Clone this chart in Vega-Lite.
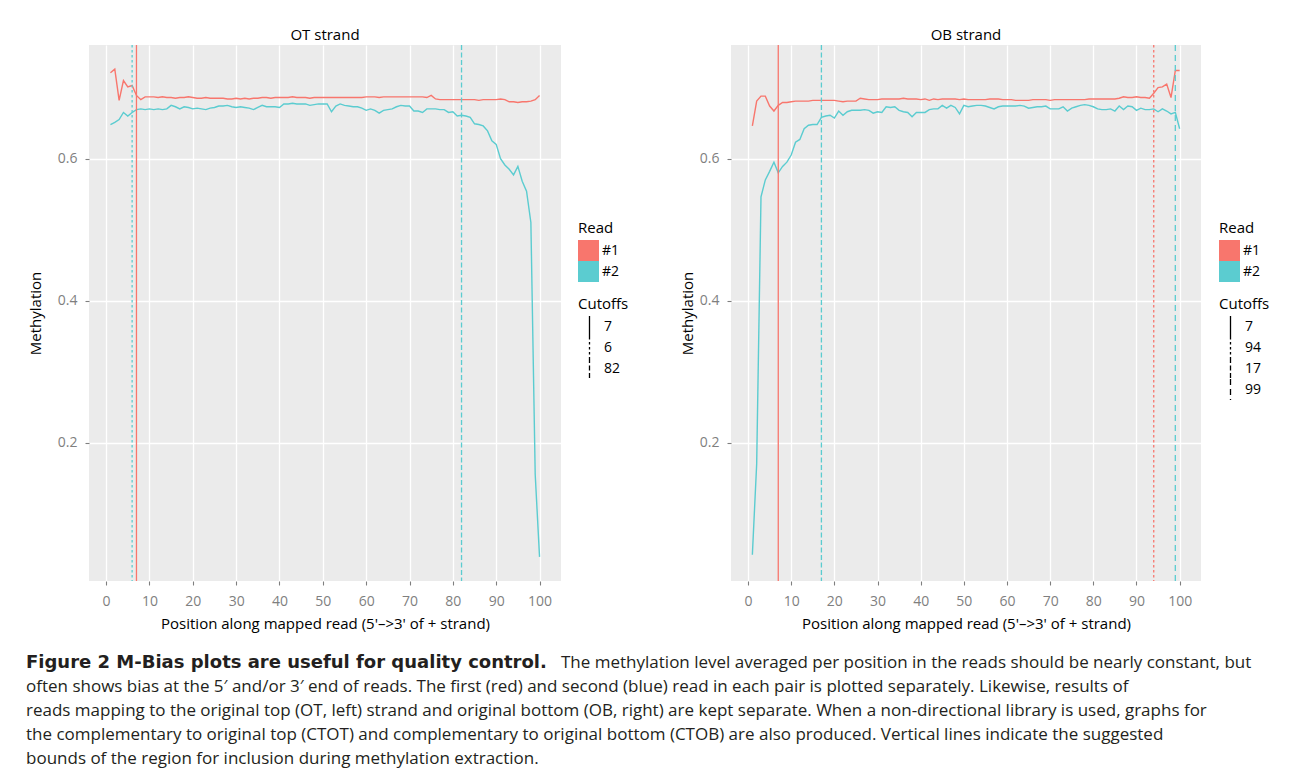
{
 "$schema": "https://vega.github.io/schema/vega-lite/v6.json",
 "background": "white",
 "padding": {"left": 26, "top": 28, "right": 5, "bottom": 10},
 "config": {
  "font": "Open Sans",
  "view": {"stroke": null},
  "axis": {"domain": false, "tickColor": "#7F7F7F", "tickSize": 4, "tickWidth": 1.1, "labelColor": "#7F7F7F", "labelFontSize": 14, "titleFontSize": 15, "titleFontWeight": "normal", "titleColor": "#000000", "gridColor": "#FFFFFF", "gridWidth": 1.3, "gridOpacity": 1},
  "legend": {"titleFontSize": 15, "titleFontWeight": "normal", "labelFontSize": 14, "titleColor": "#000000", "labelColor": "#000000"},
  "title": {"fontSize": 15, "fontWeight": "normal", "anchor": "middle", "offset": 1, "color": "#000000"}
 },
 "datasets": {
  "ot": [
   {"pos":1,"read":"#1","meth":0.721},{"pos":2,"read":"#1","meth":0.726},{"pos":3,"read":"#1","meth":0.682},{"pos":4,"read":"#1","meth":0.710},{"pos":5,"read":"#1","meth":0.701},{"pos":6,"read":"#1","meth":0.703},{"pos":7,"read":"#1","meth":0.689},{"pos":8,"read":"#1","meth":0.683},{"pos":9,"read":"#1","meth":0.687},{"pos":10,"read":"#1","meth":0.687},
   {"pos":11,"read":"#1","meth":0.687},{"pos":12,"read":"#1","meth":0.686},{"pos":13,"read":"#1","meth":0.687},{"pos":14,"read":"#1","meth":0.686},{"pos":15,"read":"#1","meth":0.686},{"pos":16,"read":"#1","meth":0.685},{"pos":17,"read":"#1","meth":0.686},{"pos":18,"read":"#1","meth":0.686},{"pos":19,"read":"#1","meth":0.687},{"pos":20,"read":"#1","meth":0.686},
   {"pos":21,"read":"#1","meth":0.685},{"pos":22,"read":"#1","meth":0.685},{"pos":23,"read":"#1","meth":0.686},{"pos":24,"read":"#1","meth":0.685},{"pos":25,"read":"#1","meth":0.685},{"pos":26,"read":"#1","meth":0.685},{"pos":27,"read":"#1","meth":0.685},{"pos":28,"read":"#1","meth":0.684},{"pos":29,"read":"#1","meth":0.684},{"pos":30,"read":"#1","meth":0.685},
   {"pos":31,"read":"#1","meth":0.684},{"pos":32,"read":"#1","meth":0.685},{"pos":33,"read":"#1","meth":0.684},{"pos":34,"read":"#1","meth":0.685},{"pos":35,"read":"#1","meth":0.685},{"pos":36,"read":"#1","meth":0.686},{"pos":37,"read":"#1","meth":0.686},{"pos":38,"read":"#1","meth":0.685},{"pos":39,"read":"#1","meth":0.686},{"pos":40,"read":"#1","meth":0.686},
   {"pos":41,"read":"#1","meth":0.686},{"pos":42,"read":"#1","meth":0.686},{"pos":43,"read":"#1","meth":0.687},{"pos":44,"read":"#1","meth":0.686},{"pos":45,"read":"#1","meth":0.686},{"pos":46,"read":"#1","meth":0.686},{"pos":47,"read":"#1","meth":0.685},{"pos":48,"read":"#1","meth":0.686},{"pos":49,"read":"#1","meth":0.686},{"pos":50,"read":"#1","meth":0.686},
   {"pos":51,"read":"#1","meth":0.686},{"pos":52,"read":"#1","meth":0.686},{"pos":53,"read":"#1","meth":0.686},{"pos":54,"read":"#1","meth":0.686},{"pos":55,"read":"#1","meth":0.686},{"pos":56,"read":"#1","meth":0.686},{"pos":57,"read":"#1","meth":0.686},{"pos":58,"read":"#1","meth":0.686},{"pos":59,"read":"#1","meth":0.686},{"pos":60,"read":"#1","meth":0.687},
   {"pos":61,"read":"#1","meth":0.687},{"pos":62,"read":"#1","meth":0.687},{"pos":63,"read":"#1","meth":0.686},{"pos":64,"read":"#1","meth":0.687},{"pos":65,"read":"#1","meth":0.687},{"pos":66,"read":"#1","meth":0.687},{"pos":67,"read":"#1","meth":0.687},{"pos":68,"read":"#1","meth":0.687},{"pos":69,"read":"#1","meth":0.687},{"pos":70,"read":"#1","meth":0.687},
   {"pos":71,"read":"#1","meth":0.687},{"pos":72,"read":"#1","meth":0.687},{"pos":73,"read":"#1","meth":0.687},{"pos":74,"read":"#1","meth":0.686},{"pos":75,"read":"#1","meth":0.689},{"pos":76,"read":"#1","meth":0.684},{"pos":77,"read":"#1","meth":0.683},{"pos":78,"read":"#1","meth":0.683},{"pos":79,"read":"#1","meth":0.683},{"pos":80,"read":"#1","meth":0.683},
   {"pos":81,"read":"#1","meth":0.683},{"pos":82,"read":"#1","meth":0.683},{"pos":83,"read":"#1","meth":0.683},{"pos":84,"read":"#1","meth":0.683},{"pos":85,"read":"#1","meth":0.683},{"pos":86,"read":"#1","meth":0.682},{"pos":87,"read":"#1","meth":0.683},{"pos":88,"read":"#1","meth":0.683},{"pos":89,"read":"#1","meth":0.683},{"pos":90,"read":"#1","meth":0.683},
   {"pos":91,"read":"#1","meth":0.684},{"pos":92,"read":"#1","meth":0.683},{"pos":93,"read":"#1","meth":0.680},{"pos":94,"read":"#1","meth":0.680},{"pos":95,"read":"#1","meth":0.679},{"pos":96,"read":"#1","meth":0.680},{"pos":97,"read":"#1","meth":0.680},{"pos":98,"read":"#1","meth":0.681},{"pos":99,"read":"#1","meth":0.683},{"pos":100,"read":"#1","meth":0.689},
   {"pos":1,"read":"#2","meth":0.648},{"pos":2,"read":"#2","meth":0.651},{"pos":3,"read":"#2","meth":0.655},{"pos":4,"read":"#2","meth":0.665},{"pos":5,"read":"#2","meth":0.660},{"pos":6,"read":"#2","meth":0.665},{"pos":7,"read":"#2","meth":0.669},{"pos":8,"read":"#2","meth":0.670},{"pos":9,"read":"#2","meth":0.669},{"pos":10,"read":"#2","meth":0.670},
   {"pos":11,"read":"#2","meth":0.669},{"pos":12,"read":"#2","meth":0.670},{"pos":13,"read":"#2","meth":0.669},{"pos":14,"read":"#2","meth":0.670},{"pos":15,"read":"#2","meth":0.675},{"pos":16,"read":"#2","meth":0.673},{"pos":17,"read":"#2","meth":0.670},{"pos":18,"read":"#2","meth":0.673},{"pos":19,"read":"#2","meth":0.672},{"pos":20,"read":"#2","meth":0.670},
   {"pos":21,"read":"#2","meth":0.671},{"pos":22,"read":"#2","meth":0.670},{"pos":23,"read":"#2","meth":0.669},{"pos":24,"read":"#2","meth":0.671},{"pos":25,"read":"#2","meth":0.672},{"pos":26,"read":"#2","meth":0.674},{"pos":27,"read":"#2","meth":0.674},{"pos":28,"read":"#2","meth":0.675},{"pos":29,"read":"#2","meth":0.673},{"pos":30,"read":"#2","meth":0.672},
   {"pos":31,"read":"#2","meth":0.673},{"pos":32,"read":"#2","meth":0.672},{"pos":33,"read":"#2","meth":0.671},{"pos":34,"read":"#2","meth":0.669},{"pos":35,"read":"#2","meth":0.672},{"pos":36,"read":"#2","meth":0.675},{"pos":37,"read":"#2","meth":0.673},{"pos":38,"read":"#2","meth":0.673},{"pos":39,"read":"#2","meth":0.673},{"pos":40,"read":"#2","meth":0.672},
   {"pos":41,"read":"#2","meth":0.677},{"pos":42,"read":"#2","meth":0.677},{"pos":43,"read":"#2","meth":0.678},{"pos":44,"read":"#2","meth":0.677},{"pos":45,"read":"#2","meth":0.677},{"pos":46,"read":"#2","meth":0.677},{"pos":47,"read":"#2","meth":0.675},{"pos":48,"read":"#2","meth":0.676},{"pos":49,"read":"#2","meth":0.677},{"pos":50,"read":"#2","meth":0.677},
   {"pos":51,"read":"#2","meth":0.677},{"pos":52,"read":"#2","meth":0.666},{"pos":53,"read":"#2","meth":0.674},{"pos":54,"read":"#2","meth":0.677},{"pos":55,"read":"#2","meth":0.675},{"pos":56,"read":"#2","meth":0.674},{"pos":57,"read":"#2","meth":0.673},{"pos":58,"read":"#2","meth":0.673},{"pos":59,"read":"#2","meth":0.671},{"pos":60,"read":"#2","meth":0.668},
   {"pos":61,"read":"#2","meth":0.670},{"pos":62,"read":"#2","meth":0.668},{"pos":63,"read":"#2","meth":0.664},{"pos":64,"read":"#2","meth":0.668},{"pos":65,"read":"#2","meth":0.669},{"pos":66,"read":"#2","meth":0.670},{"pos":67,"read":"#2","meth":0.673},{"pos":68,"read":"#2","meth":0.675},{"pos":69,"read":"#2","meth":0.674},{"pos":70,"read":"#2","meth":0.674},
   {"pos":71,"read":"#2","meth":0.667},{"pos":72,"read":"#2","meth":0.667},{"pos":73,"read":"#2","meth":0.665},{"pos":74,"read":"#2","meth":0.670},{"pos":75,"read":"#2","meth":0.670},{"pos":76,"read":"#2","meth":0.670},{"pos":77,"read":"#2","meth":0.669},{"pos":78,"read":"#2","meth":0.669},{"pos":79,"read":"#2","meth":0.665},{"pos":80,"read":"#2","meth":0.666},
   {"pos":81,"read":"#2","meth":0.660},{"pos":82,"read":"#2","meth":0.661},{"pos":83,"read":"#2","meth":0.660},{"pos":84,"read":"#2","meth":0.658},{"pos":85,"read":"#2","meth":0.649},{"pos":86,"read":"#2","meth":0.648},{"pos":87,"read":"#2","meth":0.646},{"pos":88,"read":"#2","meth":0.639},{"pos":89,"read":"#2","meth":0.625},{"pos":90,"read":"#2","meth":0.620},
   {"pos":91,"read":"#2","meth":0.600},{"pos":92,"read":"#2","meth":0.591},{"pos":93,"read":"#2","meth":0.585},{"pos":94,"read":"#2","meth":0.577},{"pos":95,"read":"#2","meth":0.589},{"pos":96,"read":"#2","meth":0.568},{"pos":97,"read":"#2","meth":0.554},{"pos":98,"read":"#2","meth":0.510},{"pos":99,"read":"#2","meth":0.155},{"pos":100,"read":"#2","meth":0.039}
  ],
  "ot_cut": [
   {"pos":7,"read":"#1","cutoff":"7"},{"pos":6,"read":"#2","cutoff":"6"},{"pos":82,"read":"#2","cutoff":"82"}
  ],
  "ob": [
   {"pos":1,"read":"#1","meth":0.646},{"pos":2,"read":"#1","meth":0.681},{"pos":3,"read":"#1","meth":0.688},{"pos":4,"read":"#1","meth":0.688},{"pos":5,"read":"#1","meth":0.674},{"pos":6,"read":"#1","meth":0.667},{"pos":7,"read":"#1","meth":0.675},{"pos":8,"read":"#1","meth":0.679},{"pos":9,"read":"#1","meth":0.679},{"pos":10,"read":"#1","meth":0.680},
   {"pos":11,"read":"#1","meth":0.681},{"pos":12,"read":"#1","meth":0.681},{"pos":13,"read":"#1","meth":0.681},{"pos":14,"read":"#1","meth":0.681},{"pos":15,"read":"#1","meth":0.682},{"pos":16,"read":"#1","meth":0.682},{"pos":17,"read":"#1","meth":0.682},{"pos":18,"read":"#1","meth":0.682},{"pos":19,"read":"#1","meth":0.682},{"pos":20,"read":"#1","meth":0.682},
   {"pos":21,"read":"#1","meth":0.681},{"pos":22,"read":"#1","meth":0.680},{"pos":23,"read":"#1","meth":0.681},{"pos":24,"read":"#1","meth":0.681},{"pos":25,"read":"#1","meth":0.681},{"pos":26,"read":"#1","meth":0.685},{"pos":27,"read":"#1","meth":0.684},{"pos":28,"read":"#1","meth":0.683},{"pos":29,"read":"#1","meth":0.683},{"pos":30,"read":"#1","meth":0.683},
   {"pos":31,"read":"#1","meth":0.684},{"pos":32,"read":"#1","meth":0.684},{"pos":33,"read":"#1","meth":0.684},{"pos":34,"read":"#1","meth":0.684},{"pos":35,"read":"#1","meth":0.684},{"pos":36,"read":"#1","meth":0.685},{"pos":37,"read":"#1","meth":0.684},{"pos":38,"read":"#1","meth":0.684},{"pos":39,"read":"#1","meth":0.684},{"pos":40,"read":"#1","meth":0.683},
   {"pos":41,"read":"#1","meth":0.684},{"pos":42,"read":"#1","meth":0.682},{"pos":43,"read":"#1","meth":0.684},{"pos":44,"read":"#1","meth":0.683},{"pos":45,"read":"#1","meth":0.684},{"pos":46,"read":"#1","meth":0.684},{"pos":47,"read":"#1","meth":0.684},{"pos":48,"read":"#1","meth":0.684},{"pos":49,"read":"#1","meth":0.683},{"pos":50,"read":"#1","meth":0.684},
   {"pos":51,"read":"#1","meth":0.683},{"pos":52,"read":"#1","meth":0.683},{"pos":53,"read":"#1","meth":0.683},{"pos":54,"read":"#1","meth":0.683},{"pos":55,"read":"#1","meth":0.683},{"pos":56,"read":"#1","meth":0.684},{"pos":57,"read":"#1","meth":0.684},{"pos":58,"read":"#1","meth":0.684},{"pos":59,"read":"#1","meth":0.683},{"pos":60,"read":"#1","meth":0.683},
   {"pos":61,"read":"#1","meth":0.683},{"pos":62,"read":"#1","meth":0.682},{"pos":63,"read":"#1","meth":0.682},{"pos":64,"read":"#1","meth":0.682},{"pos":65,"read":"#1","meth":0.682},{"pos":66,"read":"#1","meth":0.683},{"pos":67,"read":"#1","meth":0.683},{"pos":68,"read":"#1","meth":0.683},{"pos":69,"read":"#1","meth":0.683},{"pos":70,"read":"#1","meth":0.682},
   {"pos":71,"read":"#1","meth":0.683},{"pos":72,"read":"#1","meth":0.683},{"pos":73,"read":"#1","meth":0.683},{"pos":74,"read":"#1","meth":0.683},{"pos":75,"read":"#1","meth":0.683},{"pos":76,"read":"#1","meth":0.683},{"pos":77,"read":"#1","meth":0.683},{"pos":78,"read":"#1","meth":0.683},{"pos":79,"read":"#1","meth":0.684},{"pos":80,"read":"#1","meth":0.684},
   {"pos":81,"read":"#1","meth":0.684},{"pos":82,"read":"#1","meth":0.684},{"pos":83,"read":"#1","meth":0.684},{"pos":84,"read":"#1","meth":0.684},{"pos":85,"read":"#1","meth":0.684},{"pos":86,"read":"#1","meth":0.685},{"pos":87,"read":"#1","meth":0.687},{"pos":88,"read":"#1","meth":0.686},{"pos":89,"read":"#1","meth":0.686},{"pos":90,"read":"#1","meth":0.687},
   {"pos":91,"read":"#1","meth":0.686},{"pos":92,"read":"#1","meth":0.686},{"pos":93,"read":"#1","meth":0.685},{"pos":94,"read":"#1","meth":0.692},{"pos":95,"read":"#1","meth":0.700},{"pos":96,"read":"#1","meth":0.701},{"pos":97,"read":"#1","meth":0.705},{"pos":98,"read":"#1","meth":0.686},{"pos":99,"read":"#1","meth":0.724},{"pos":100,"read":"#1","meth":0.724},
   {"pos":1,"read":"#2","meth":0.042},{"pos":2,"read":"#2","meth":0.170},{"pos":3,"read":"#2","meth":0.546},{"pos":4,"read":"#2","meth":0.570},{"pos":5,"read":"#2","meth":0.582},{"pos":6,"read":"#2","meth":0.595},{"pos":7,"read":"#2","meth":0.580},{"pos":8,"read":"#2","meth":0.589},{"pos":9,"read":"#2","meth":0.595},{"pos":10,"read":"#2","meth":0.605},
   {"pos":11,"read":"#2","meth":0.623},{"pos":12,"read":"#2","meth":0.627},{"pos":13,"read":"#2","meth":0.642},{"pos":14,"read":"#2","meth":0.647},{"pos":15,"read":"#2","meth":0.648},{"pos":16,"read":"#2","meth":0.648},{"pos":17,"read":"#2","meth":0.658},{"pos":18,"read":"#2","meth":0.660},{"pos":19,"read":"#2","meth":0.661},{"pos":20,"read":"#2","meth":0.657},
   {"pos":21,"read":"#2","meth":0.667},{"pos":22,"read":"#2","meth":0.661},{"pos":23,"read":"#2","meth":0.666},{"pos":24,"read":"#2","meth":0.668},{"pos":25,"read":"#2","meth":0.668},{"pos":26,"read":"#2","meth":0.668},{"pos":27,"read":"#2","meth":0.669},{"pos":28,"read":"#2","meth":0.668},{"pos":29,"read":"#2","meth":0.664},{"pos":30,"read":"#2","meth":0.666},
   {"pos":31,"read":"#2","meth":0.665},{"pos":32,"read":"#2","meth":0.673},{"pos":33,"read":"#2","meth":0.672},{"pos":34,"read":"#2","meth":0.673},{"pos":35,"read":"#2","meth":0.668},{"pos":36,"read":"#2","meth":0.666},{"pos":37,"read":"#2","meth":0.665},{"pos":38,"read":"#2","meth":0.659},{"pos":39,"read":"#2","meth":0.665},{"pos":40,"read":"#2","meth":0.665},
   {"pos":41,"read":"#2","meth":0.665},{"pos":42,"read":"#2","meth":0.669},{"pos":43,"read":"#2","meth":0.670},{"pos":44,"read":"#2","meth":0.670},{"pos":45,"read":"#2","meth":0.675},{"pos":46,"read":"#2","meth":0.671},{"pos":47,"read":"#2","meth":0.675},{"pos":48,"read":"#2","meth":0.672},{"pos":49,"read":"#2","meth":0.663},{"pos":50,"read":"#2","meth":0.675},
   {"pos":51,"read":"#2","meth":0.673},{"pos":52,"read":"#2","meth":0.674},{"pos":53,"read":"#2","meth":0.675},{"pos":54,"read":"#2","meth":0.675},{"pos":55,"read":"#2","meth":0.674},{"pos":56,"read":"#2","meth":0.672},{"pos":57,"read":"#2","meth":0.670},{"pos":58,"read":"#2","meth":0.673},{"pos":59,"read":"#2","meth":0.674},{"pos":60,"read":"#2","meth":0.674},
   {"pos":61,"read":"#2","meth":0.674},{"pos":62,"read":"#2","meth":0.674},{"pos":63,"read":"#2","meth":0.675},{"pos":64,"read":"#2","meth":0.674},{"pos":65,"read":"#2","meth":0.671},{"pos":66,"read":"#2","meth":0.672},{"pos":67,"read":"#2","meth":0.673},{"pos":68,"read":"#2","meth":0.673},{"pos":69,"read":"#2","meth":0.674},{"pos":70,"read":"#2","meth":0.670},
   {"pos":71,"read":"#2","meth":0.670},{"pos":72,"read":"#2","meth":0.670},{"pos":73,"read":"#2","meth":0.673},{"pos":74,"read":"#2","meth":0.667},{"pos":75,"read":"#2","meth":0.671},{"pos":76,"read":"#2","meth":0.673},{"pos":77,"read":"#2","meth":0.675},{"pos":78,"read":"#2","meth":0.676},{"pos":79,"read":"#2","meth":0.675},{"pos":80,"read":"#2","meth":0.673},
   {"pos":81,"read":"#2","meth":0.670},{"pos":82,"read":"#2","meth":0.669},{"pos":83,"read":"#2","meth":0.669},{"pos":84,"read":"#2","meth":0.670},{"pos":85,"read":"#2","meth":0.667},{"pos":86,"read":"#2","meth":0.674},{"pos":87,"read":"#2","meth":0.669},{"pos":88,"read":"#2","meth":0.674},{"pos":89,"read":"#2","meth":0.673},{"pos":90,"read":"#2","meth":0.668},
   {"pos":91,"read":"#2","meth":0.671},{"pos":92,"read":"#2","meth":0.669},{"pos":93,"read":"#2","meth":0.669},{"pos":94,"read":"#2","meth":0.670},{"pos":95,"read":"#2","meth":0.666},{"pos":96,"read":"#2","meth":0.670},{"pos":97,"read":"#2","meth":0.667},{"pos":98,"read":"#2","meth":0.663},{"pos":99,"read":"#2","meth":0.665},{"pos":100,"read":"#2","meth":0.642}
  ],
  "ob_cut": [
   {"pos":7,"read":"#1","cutoff":"7"},{"pos":94,"read":"#1","cutoff":"94"},{"pos":17,"read":"#2","cutoff":"17"},{"pos":99,"read":"#2","cutoff":"99"}
  ],
  "caption": [
   {"line":1,"part":"bold","text":"Figure 2 M-Bias plots are useful for quality control."},
   {"line":1,"part":"lead","text":"The methylation level averaged per position in the reads should be nearly constant, but"},
   {"line":2,"part":"body","text":"often shows bias at the 5′ and/or 3′ end of reads. The first (red) and second (blue) read in each pair is plotted separately. Likewise, results of"},
   {"line":3,"part":"body","text":"reads mapping to the original top (OT, left) strand and original bottom (OB, right) are kept separate. When a non-directional library is used, graphs for"},
   {"line":4,"part":"body","text":"the complementary to original top (CTOT) and complementary to original bottom (CTOB) are also produced. Vertical lines indicate the suggested"},
   {"line":5,"part":"body","text":"bounds of the region for inclusion during methylation extraction."}
  ]
 },
 "spacing": 23,
 "vconcat": [
  {
   "spacing": 51,
   "resolve": {"scale": {"strokeDash": "independent"}, "legend": {"color": "independent", "strokeDash": "independent"}},
   "hconcat": [
    {
     "width": 472, "height": 536,
     "view": {"fill": "#EBEBEB", "stroke": null},
     "title": "OT strand",
     "layer": [
      {"data": {"name": "ot"}, "mark": {"type": "line", "strokeWidth": 1.4},
       "encoding": {
        "x": {"field": "pos", "type": "quantitative", "title": "Position along mapped read (5'–>3' of + strand)", "scale": {"domain": [-3.95, 104.95], "nice": false, "zero": false}, "axis": {"values": [0,10,20,30,40,50,60,70,80,90,100], "labelPadding": 9, "titlePadding": 8}},
        "y": {"field": "meth", "type": "quantitative", "title": "Methylation", "scale": {"domain": [0.005, 0.76], "nice": false, "zero": false}, "axis": {"values": [0.2,0.4,0.6], "format": ".1f", "labelPadding": 8, "titlePadding": 14}},
        "color": {"field": "read", "type": "nominal", "scale": {"domain": ["#1","#2"], "range": ["#F8766D","#5BCCD0"]},
         "legend": {"title": "Read", "orient": "none", "legendX": 489, "legendY": 176, "symbolType": "square", "symbolSize": 441, "symbolStrokeWidth": 0, "rowPadding": 0, "labelOffset": 3, "titlePadding": 4,
          "encode": {"symbols": {"update": {"fill": {"scale": "color", "field": "value"}, "opacity": {"value": 1}}}}}}
       }},
      {"data": {"name": "ot_cut"}, "mark": {"type": "rule", "strokeWidth": 1.3},
       "encoding": {
        "x": {"field": "pos", "type": "quantitative", "axis": {"values": [5,15,25,35,45,55,65,75,85,95], "orient": "top", "labels": false, "ticks": false, "domain": false, "title": null, "gridColor": "#F7F7F7", "gridWidth": 0.7}},
        "color": {"field": "read", "type": "nominal"},
        "strokeDash": {"field": "cutoff", "type": "nominal", "scale": {"domain": ["7","6","82"], "range": [[1,0],[2.5,2.5],[5,2.5]]},
         "legend": {"title": "Cutoffs", "orient": "none", "legendX": 489, "legendY": 252, "symbolType": "M0,-1L0,1", "symbolSize": 441, "symbolStrokeColor": "#000000", "symbolStrokeWidth": 1.3, "rowPadding": 0, "clipHeight": 21, "labelOffset": 3, "titlePadding": 4}}
       }},
      {"data": {"name": "ot"}, "mark": {"type": "line", "opacity": 0},
       "encoding": {
        "x": {"field": "pos", "type": "quantitative", "axis": null},
        "y": {"field": "meth", "type": "quantitative", "axis": {"values": [0.1,0.3,0.5,0.7], "orient": "right", "labels": false, "ticks": false, "domain": false, "title": null, "gridColor": "#F7F7F7", "gridWidth": 0.7}},
        "detail": {"field": "read"}
       }}
     ],
     "resolve": {"axis": {"x": "independent", "y": "independent"}}
    },
    {
     "width": 470, "height": 536,
     "view": {"fill": "#EBEBEB", "stroke": null},
     "title": "OB strand",
     "layer": [
      {"data": {"name": "ob"}, "mark": {"type": "line", "strokeWidth": 1.4},
       "encoding": {
        "x": {"field": "pos", "type": "quantitative", "title": "Position along mapped read (5'–>3' of + strand)", "scale": {"domain": [-3.95, 104.95], "nice": false, "zero": false}, "axis": {"values": [0,10,20,30,40,50,60,70,80,90,100], "labelPadding": 9, "titlePadding": 8}},
        "y": {"field": "meth", "type": "quantitative", "title": "Methylation", "scale": {"domain": [0.005, 0.76], "nice": false, "zero": false}, "axis": {"values": [0.2,0.4,0.6], "format": ".1f", "labelPadding": 8, "titlePadding": 4}},
        "color": {"field": "read", "type": "nominal", "scale": {"domain": ["#1","#2"], "range": ["#F8766D","#5BCCD0"]},
         "legend": {"title": "Read", "orient": "none", "legendX": 488, "legendY": 176, "symbolType": "square", "symbolSize": 441, "symbolStrokeWidth": 0, "rowPadding": 0, "labelOffset": 3, "titlePadding": 4,
          "encode": {"symbols": {"update": {"fill": {"scale": "color", "field": "value"}, "opacity": {"value": 1}}}}}}
       }},
      {"data": {"name": "ob_cut"}, "mark": {"type": "rule", "strokeWidth": 1.3},
       "encoding": {
        "x": {"field": "pos", "type": "quantitative", "axis": {"values": [5,15,25,35,45,55,65,75,85,95], "orient": "top", "labels": false, "ticks": false, "domain": false, "title": null, "gridColor": "#F7F7F7", "gridWidth": 0.7}},
        "color": {"field": "read", "type": "nominal"},
        "strokeDash": {"field": "cutoff", "type": "nominal", "scale": {"domain": ["7","94","17","99"], "range": [[1,0],[2.5,2.5],[5,2.5],[6,4]]},
         "legend": {"title": "Cutoffs", "orient": "none", "legendX": 488, "legendY": 252, "symbolType": "M0,-1L0,1", "symbolSize": 441, "symbolStrokeColor": "#000000", "symbolStrokeWidth": 1.3, "rowPadding": 0, "clipHeight": 21, "labelOffset": 3, "titlePadding": 4}}
       }},
      {"data": {"name": "ob"}, "mark": {"type": "line", "opacity": 0},
       "encoding": {
        "x": {"field": "pos", "type": "quantitative", "axis": null},
        "y": {"field": "meth", "type": "quantitative", "axis": {"values": [0.1,0.3,0.5,0.7], "orient": "right", "labels": false, "ticks": false, "domain": false, "title": null, "gridColor": "#F7F7F7", "gridWidth": 0.7}},
        "detail": {"field": "read"}
       }}
     ],
     "resolve": {"axis": {"x": "independent", "y": "independent"}}
    }
   ]
  },
  {
   "width": 1250, "height": 96,
   "view": {"fill": null, "stroke": null},
   "data": {"name": "caption"},
   "encoding": {
    "x": {"datum": 0, "type": "quantitative", "scale": {"domain": [0, 1]}, "axis": null},
    "y": {"field": "line", "type": "quantitative", "scale": {"domain": [1, 5], "reverse": true, "nice": false, "zero": false}, "axis": null},
    "text": {"field": "text"}
   },
   "layer": [
    {"transform": [{"filter": "datum.part == 'bold'"}], "mark": {"type": "text", "align": "left", "baseline": "middle", "font": "DejaVu Sans", "fontWeight": "bold", "fontSize": 18, "dx": -63, "color": "#231F20"}},
    {"transform": [{"filter": "datum.part == 'lead'"}], "mark": {"type": "text", "align": "left", "baseline": "middle", "font": "Open Sans", "fontSize": 17, "dx": 472, "color": "#231F20"}},
    {"transform": [{"filter": "datum.part == 'body'"}], "mark": {"type": "text", "align": "left", "baseline": "middle", "font": "Open Sans", "fontSize": 17, "dx": -63, "color": "#231F20"}}
   ]
  }
 ]
}
